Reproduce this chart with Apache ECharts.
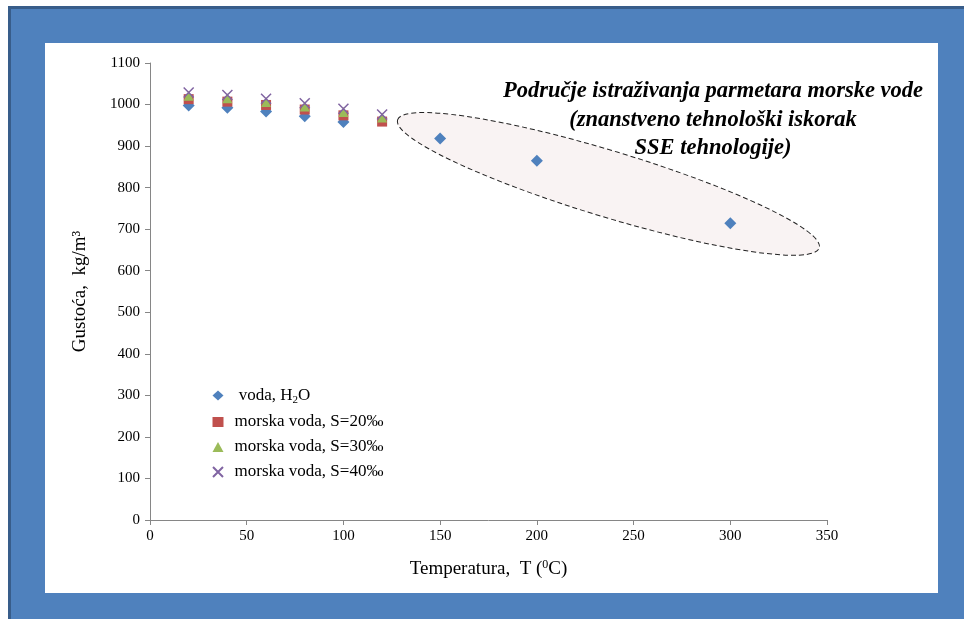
<!DOCTYPE html>
<html>
<head>
<meta charset="utf-8">
<script src="https://cdn.jsdelivr.net/npm/echarts@6/dist/echarts.min.js"></script>
<style>
  html, body { margin: 0; padding: 0; background: #fff; }
  .frame {
    position: absolute; left: 8px; top: 6px; right: 0; bottom: 0;
    background: #4f81bd;
    border-top: 3px solid #385d8a; border-left: 3px solid #385d8a;
  }
  .paper {
    position: absolute; left: 45px; top: 43px; width: 893px; height: 550px;
    background: #fff;
  }
  #density_chart { position: absolute; left: 0; top: 0; width: 964px; height: 619px; }
</style>
</head>
<body>
<div class="frame"></div>
<div class="paper"></div>
<div id="density_chart"></div>
<script>
// temperature, °C
const tempLow = [20, 40, 60, 80, 100, 120];
const tempWater = [20, 40, 60, 80, 100, 150, 200, 300];

// density, kg/m3
const waterDensity = [998, 992, 983, 972, 958, 918, 865, 714];
const sea20Density = [1013, 1007, 999, 988, 974, 959];
const sea30Density = [1021, 1015, 1006, 995, 982, 969];
const sea40Density = [1029, 1023, 1014, 1003, 990, 976];

const seriesNames = ['voda, H2O', 'morska voda, S=20‰', 'morska voda, S=30‰', 'morska voda, S=40‰'];
const noteLines = [
  'Područje istraživanja parmetara morske vode',
  '(znanstveno tehnološki iskorak',
  'SSE tehnologije)'
];

const pairs = (xs, ys) => xs.map((x, i) => [x, ys[i]]);
const serif = '"Liberation Serif", "Times New Roman", serif';
const crossPath = 'path://M0,0L10,10M10,0L0,10';

const chart = echarts.init(document.getElementById('density_chart'));

const option = {
  backgroundColor: 'transparent',
  animation: false,
  textStyle: { fontFamily: serif },
  grid: { left: 150, right: 137, top: 63, bottom: 99 },
  legend: {
    orient: 'vertical',
    left: 207,
    top: 382,
    itemGap: 8,
    itemWidth: 11,
    itemHeight: 10,
    data: seriesNames,
    textStyle: {
      fontFamily: serif, fontSize: 17, color: '#000', padding: [0, 0, 0, 6],
      rich: { sub: { fontFamily: serif, fontSize: 11, color: '#000', verticalAlign: 'bottom', padding: [9, 0, 0, 0] } }
    },
    formatter: function (name) {
      return name === 'voda, H2O' ? ' voda, H{sub|2}O' : name;
    }
  },
  xAxis: {
    type: 'value',
    min: 0, max: 350, interval: 50,
    name: 'Temperatura,  T ({sup|0}C)',
    nameLocation: 'middle',
    nameGap: 39,
    nameTextStyle: {
      fontFamily: serif, fontSize: 19, color: '#000',
      rich: { sup: { fontFamily: serif, fontSize: 12, color: '#000', verticalAlign: 'top', padding: [0, 0, 8, 0] } }
    },
    axisLine: { show: true, lineStyle: { color: '#868686' } },
    axisTick: { show: true, length: 5, lineStyle: { color: '#868686' } },
    axisLabel: { fontFamily: serif, fontSize: 15, color: '#000', margin: 9 },
    splitLine: { show: false }
  },
  yAxis: {
    type: 'value',
    min: 0, max: 1100, interval: 100,
    name: 'Gustoća,  kg/m³',
    nameLocation: 'middle',
    nameGap: 60,
    nameTextStyle: { fontFamily: serif, fontSize: 19, color: '#000' },
    axisLine: { show: true, lineStyle: { color: '#868686' } },
    axisTick: { show: true, length: 5, lineStyle: { color: '#868686' } },
    axisLabel: { fontFamily: serif, fontSize: 15, color: '#000', margin: 10, formatter: v => String(v) },
    splitLine: { show: false }
  },
  series: [
    {
      name: seriesNames[0], type: 'scatter', z: 2,
      symbol: 'diamond', symbolSize: 12,
      itemStyle: { color: '#4f81bd', opacity: 1 },
      data: pairs(tempWater, waterDensity)
    },
    {
      name: seriesNames[1], type: 'scatter', z: 3,
      symbol: 'rect', symbolSize: 10,
      itemStyle: { color: '#c0504d', opacity: 1 },
      data: pairs(tempLow, sea20Density)
    },
    {
      name: seriesNames[2], type: 'scatter', z: 4,
      symbol: 'triangle', symbolSize: 10,
      itemStyle: { color: '#9bbb59', opacity: 1 },
      data: pairs(tempLow, sea30Density)
    },
    {
      name: seriesNames[3], type: 'scatter', z: 5,
      symbol: crossPath, symbolSize: 10,
      itemStyle: { color: 'rgba(0,0,0,0)', borderColor: '#8064a2', borderWidth: 1.5, opacity: 1 },
      data: pairs(tempLow, sea40Density)
    }
  ]
};

chart.setOption(option);

// dashed ellipse around the high-temperature points + the note
const p1 = chart.convertToPixel({ gridIndex: 0 }, [128, 963]);
const p2 = chart.convertToPixel({ gridIndex: 0 }, [346, 655]);
const dx = p2[0] - p1[0], dy = p2[1] - p1[1];
const angle = Math.atan2(dy, dx);
const ctr = [(p1[0] + p2[0]) / 2, (p1[1] + p2[1]) / 2];

chart.setOption({
  graphic: [
    {
      type: 'ellipse',
      z: 1,
      x: ctr[0], y: ctr[1],
      rotation: -angle,
      shape: { cx: 0, cy: 0, rx: Math.sqrt(dx * dx + dy * dy) / 2, ry: 33 },
      style: { fill: '#f9f3f3', stroke: '#222', lineWidth: 1, lineDash: [5, 3] }
    },
    {
      type: 'text',
      z: 10,
      x: 713, y: 77,
      style: {
        text: noteLines.join('\n'),
        align: 'center',
        verticalAlign: 'top',
        font: 'italic bold 22.5px ' + serif,
        lineHeight: 28.5,
        fill: '#000'
      }
    }
  ]
});
</script>
</body>
</html>
